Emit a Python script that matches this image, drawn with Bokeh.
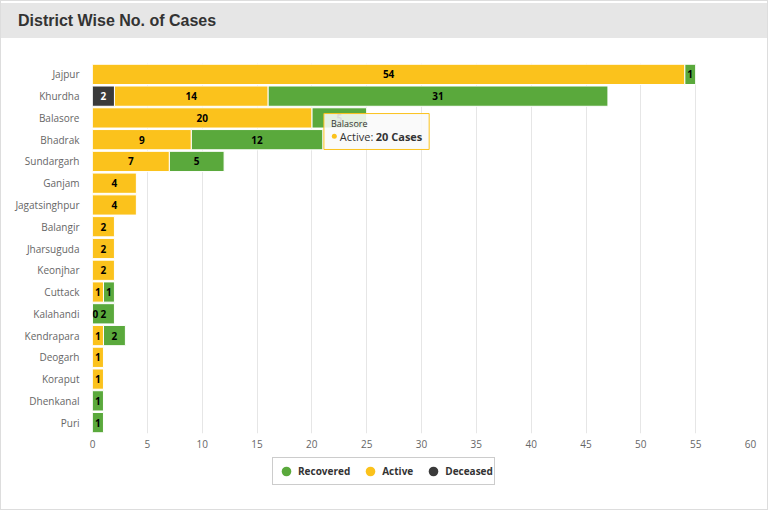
from bokeh.plotting import figure
from bokeh.models import (ColumnDataSource, Range1d, FixedTicker, Legend, LegendItem, Div)
from bokeh.layouts import column
from bokeh.core.properties import value
from bokeh.embed import file_html
from bokeh.resources import INLINE

districts = ["Jajpur", "Khurdha", "Balasore", "Bhadrak", "Sundargarh", "Ganjam",
             "Jagatsinghpur", "Balangir", "Jharsuguda", "Keonjhar", "Cuttack",
             "Kalahandi", "Kendrapara", "Deogarh", "Koraput", "Dhenkanal", "Puri"]
deceased = [None, 2, None, None, None, None, None, None, None, None, None,
            None, None, None, None, None, None]
active = [54, 14, 20, 9, 7, 4, 4, 2, 2, 2, 1, 0, 1, 1, 1, None, None]
recovered = [1, 31, 5, 12, 5, None, None, None, None, None, 1, 2, 2, None, None, 1, 1]
x_ticks = [0, 5, 10, 15, 20, 25, 30, 35, 40, 45, 50, 55, 60]
series_names = ["Recovered", "Active", "Deceased"]
tooltip_district = "Balasore"
chart_title = "District Wise No. of Cases"

C_REC = "#5aa93c"
C_ACT = "#fbc21c"
C_DEC = "#3a3a3a"
colors = {"Deceased": C_DEC, "Active": C_ACT, "Recovered": C_REC}
series_vals = {"Deceased": deceased, "Active": active, "Recovered": recovered}

n = len(districts)
idx = list(range(n))

segs = {name: {"y": [], "left": [], "right": [], "lx": [], "label": [], "align": []}
        for name in series_names}
for i in idx:
    start = 0
    for name in ("Deceased", "Active", "Recovered"):
        v = series_vals[name][i]
        if v is None:
            continue
        s = segs[name]
        s["y"].append(i)
        s["left"].append(start)
        s["right"].append(start + v)
        s["lx"].append(start + v / 2)
        s["label"].append(str(v))
        s["align"].append("left" if v == 0 else "center")
        start += v

FONT = "Open Sans"
W = 766

header = Div(text=('<div style="margin-top:2px; height:35px; line-height:35px; '
                   'background:#e6e6e6; padding-left:17px; width:766px; box-sizing:border-box; '
                   'font-family:Arial, \'Liberation Sans\', sans-serif; font-size:16px; '
                   'font-weight:bold; color:#333333;">' + chart_title + '</div>'),
             width=W, height=37, margin=0)

p = figure(width=W, height=419, output_backend="svg", toolbar_location=None,
           x_range=Range1d(0, 60), y_range=Range1d(n - 0.5, -0.5),
           min_border_left=91, min_border_right=17, min_border_top=25, min_border_bottom=24)
p.outline_line_color = None
p.background_fill_color = "white"
p.border_fill_color = "white"

p.ygrid.grid_line_color = None
p.xgrid.ticker = FixedTicker(ticks=x_ticks)
p.xgrid.grid_line_color = "#e6e6e6"

sources = {name: ColumnDataSource(segs[name]) for name in series_names}
for name in series_names:
    p.hbar(y="y", left="left", right="right", height=0.93, fill_color=colors[name],
           line_color="white", line_width=1, source=sources[name])
for name in series_names:
    p.text(x="lx", y="y", text="label", source=sources[name], text_align="align",
           text_baseline="middle", text_font=value(FONT), text_font_size="10px",
           text_font_style="bold", text_color="#ffffff" if name == "Deceased" else "#000000")

p.yaxis.ticker = FixedTicker(ticks=idx)
p.yaxis.major_label_overrides = {i: d for i, d in enumerate(districts)}
p.yaxis.axis_line_color = None
p.yaxis.major_tick_line_color = None
p.yaxis.minor_tick_line_color = None
p.yaxis.major_label_text_font = FONT
p.yaxis.major_label_text_font_size = "10px"
p.yaxis.major_label_text_color = "#666666"
p.yaxis.major_label_standoff = 7

p.xaxis.ticker = FixedTicker(ticks=x_ticks)
p.xaxis.axis_line_color = None
p.xaxis.major_tick_line_color = None
p.xaxis.minor_tick_line_color = None
p.xaxis.major_label_text_font = FONT
p.xaxis.major_label_text_font_size = "10px"
p.xaxis.major_label_text_color = "#666666"
p.xaxis.major_label_standoff = 0

# static tooltip for Balasore
ti = districts.index(tooltip_district)
tv = active[ti]
p.quad(left=[tv + 1.1], right=[tv + 10.7], top=[ti - 0.2], bottom=[ti + 1.45],
       fill_color="#f9f9f9", fill_alpha=0.88, line_color=C_ACT, line_width=1)
p.text(x=[tv + 1.75], y=[ti + 0.27], text=[tooltip_district], text_font=value(FONT),
       text_font_size="9px", text_color="#333333", text_baseline="middle")
p.scatter(x=[tv + 2.05], y=[ti + 0.84], size=5, fill_color=C_ACT, line_color=None)
p.text(x=[tv + 2.55], y=[ti + 0.84], text=["Active:"], text_font=value(FONT),
       text_font_size="11px", text_color="#333333", text_baseline="middle")
p.text(x=[tv + 2.55], y=[ti + 0.84], x_offset=36, text=[f"{tv} Cases"], text_font=value(FONT),
       text_font_size="11px", text_font_style="bold", text_color="#333333", text_baseline="middle")

# legend in its own small figure (frame aligned with the main one)
lf = figure(width=W, height=52, output_backend="svg", toolbar_location=None,
            x_range=Range1d(0, 1), y_range=Range1d(0, 1),
            x_axis_location=None, y_axis_location=None, min_border=0)
lf.outline_line_color = None
lf.grid.grid_line_color = None
lf.border_fill_color = "white"
items = []
for name in series_names:
    r = lf.scatter(x="lx", y="y", source=sources[name], size=0, fill_color=colors[name],
                   line_color=None)
    items.append(LegendItem(label=name, renderers=[r]))
legend = Legend(items=items, orientation="horizontal", location=(180, 24),
                label_text_font=FONT, label_text_font_size="10px", label_text_font_style="bold",
                label_text_color="#333333", border_line_color="#999999", border_line_width=1,
                background_fill_color="white", padding=1, spacing=8, label_standoff=0,
                glyph_width=24, glyph_height=24, margin=0)
lf.add_layout(legend, "center")

layout = column(header, p, lf, styles={"border": "1px solid #dddddd"})

open("out.html", "w").write(file_html(layout, INLINE))
